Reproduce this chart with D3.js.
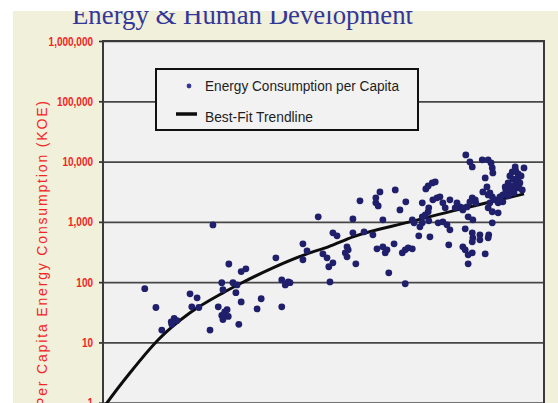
<!DOCTYPE html>
<html>
<head>
<meta charset="utf-8">
<script src="https://cdn.jsdelivr.net/npm/d3@7"></script>
<style>
  html, body { margin: 0; padding: 0; background: #fff; overflow: hidden; }
  svg { display: block; }
</style>
</head>
<body>
<svg id="chart" width="558" height="403"></svg>
<script>
// Human development index of each country
const hdi = [
  0.321, 0.340, 0.350, 0.366, 0.371, 0.376, 0.367, 0.398, 0.410, 0.401,
  0.413, 0.432, 0.437, 0.446, 0.452, 0.454, 0.457, 0.452, 0.461, 0.454,
  0.463, 0.464, 0.471, 0.476, 0.478, 0.485, 0.493, 0.485, 0.481, 0.512,
  0.519, 0.544, 0.554, 0.560, 0.565, 0.568, 0.554, 0.590, 0.590, 0.597,
  0.616, 0.624, 0.631, 0.634, 0.641, 0.641, 0.648, 0.636, 0.665, 0.667,
  0.662, 0.665, 0.675, 0.675, 0.680, 0.687, 0.694, 0.709, 0.716, 0.714,
  0.714, 0.718, 0.721, 0.726, 0.726, 0.733, 0.730, 0.736, 0.745, 0.747,
  0.755, 0.759, 0.764, 0.769, 0.776, 0.765, 0.764, 0.776, 0.779, 0.787,
  0.789, 0.793, 0.793, 0.798, 0.793, 0.799, 0.803, 0.810, 0.815, 0.804,
  0.803, 0.804, 0.806, 0.811, 0.818, 0.823, 0.828, 0.820, 0.828, 0.835,
  0.840, 0.840, 0.838, 0.832, 0.857, 0.862, 0.869, 0.867, 0.874, 0.878,
  0.895, 0.905, 0.910, 0.912, 0.913, 0.900, 0.903, 0.878, 0.883, 0.874,
  0.862, 0.871, 0.879, 0.905, 0.912, 0.917, 0.908, 0.905, 0.912, 0.922,
  0.922, 0.930, 0.912, 0.866, 0.878, 0.879, 0.878, 0.891, 0.891, 0.906,
  0.905, 0.862, 0.866, 0.878, 0.871, 0.900, 0.871, 0.951, 0.966, 0.942,
  0.947, 0.952, 0.956, 0.959, 0.939, 0.944, 0.951, 0.957, 0.935, 0.942,
  0.949, 0.956, 0.961, 0.930, 0.939, 0.925, 0.934, 0.946, 0.952, 0.963,
  0.925, 0.896, 0.908, 0.884, 0.849, 0.852
];

// Per capita energy consumption, kg of oil equivalent
const koe = [
  78, 38, 16, 22, 25, 23, 20, 64, 55, 39,
  38, 16, 890, 39, 98, 75, 32, 28, 35, 24,
  27, 200, 98, 67, 90, 150, 166, 47, 20, 36,
  53, 253, 109, 90, 101, 98, 39, 432, 235, 331,
  1210, 295, 253, 180, 209, 657, 587, 101, 385, 344,
  306, 263, 1120, 657, 201, 2230, 683, 609, 357, 2500,
  2070, 1840, 3140, 1080, 385, 344, 306, 143, 432, 3390,
  1580, 306, 344, 371, 357, 2150, 94, 1080, 963, 587,
  826, 2070, 1210, 1310, 963, 3520, 3950, 4430, 4600, 1710,
  1470, 1040, 564, 2320, 2500, 2600, 2070, 963, 1000, 892,
  2320, 737, 416, 1710, 1770, 1710, 1770, 12900, 9880, 8160,
  10700, 10700, 9510, 7860, 6490, 5360, 3800, 2500, 2320, 2150,
  1580, 1210, 1080, 2800, 2600, 2320, 2070, 1710, 1470, 1410,
  2070, 2150, 963, 766, 657, 543, 466, 609, 503, 609,
  543, 385, 344, 306, 284, 295, 201, 8160, 7860, 5790,
  5160, 4600, 5360, 4430, 4430, 3950, 3660, 3660, 3390, 3140,
  3030, 6250, 5790, 2800, 2700, 2600, 3800, 6740, 7000, 3390,
  2320, 3140, 3030, 2070, 1710, 2070
];

// Best-fit trendline
const trendHdi = [0.250, 0.257, 0.296, 0.344, 0.398, 0.454, 0.483, 0.539, 0.597, 0.633, 0.675, 0.772, 0.845, 0.903, 0.966];
const trendKoe = [0.8, 1.0, 3.14, 11.1, 31, 66.5, 94, 173, 295, 385, 564, 1000, 1520, 2070, 2910];

const yTicks = [1, 10, 100, 1000, 10000, 100000, 1000000];
const titleText = "Energy & Human Development";
const yTitle = "Per Capita Energy Consumption (KOE)";
const legendLabels = ["Energy Consumption per Capita", "Best-Fit Trendline"];

const W = 558, H = 403;
const plot = { left: 103, top: 41, right: 544, bottom: 463 };
const navy = "#1f1f6b";
const red = "#f42424";
const narrow = 0.8; // horizontal squeeze for the condensed labels

const svg = d3.select("#chart");

const x = d3.scaleLinear().domain([0.25, 1.0]).range([plot.left, plot.right]);
const y = d3.scaleLog().domain([0.1, 1e6]).range([plot.bottom, plot.top]);

// slide background
svg.append("rect").attr("width", W).attr("height", H).attr("fill", "#ffffff");
svg.append("rect").attr("x", 13).attr("y", 11).attr("width", W - 13).attr("height", H - 11).attr("fill", "#f1f0da");

// title
svg.append("text")
  .attr("x", 72).attr("y", 24)
  .attr("textLength", 341).attr("lengthAdjust", "spacingAndGlyphs")
  .style("font-family", "'Liberation Serif', 'Times New Roman', serif")
  .style("font-size", "27px")
  .attr("fill", "#34379a")
  .text(titleText);

// white strip across the top edge
svg.append("rect").attr("x", 0).attr("y", 0).attr("width", W).attr("height", 11).attr("fill", "#ffffff");

// plot area
svg.append("rect")
  .attr("x", plot.left).attr("y", plot.top)
  .attr("width", plot.right - plot.left).attr("height", plot.bottom - plot.top)
  .attr("fill", "#f1f1f1");

svg.append("defs").append("clipPath").attr("id", "plotClip")
  .append("rect")
  .attr("x", plot.left).attr("y", plot.top)
  .attr("width", plot.right - plot.left).attr("height", plot.bottom - plot.top);

// gridlines
const grid = svg.append("g")
  .attr("transform", `translate(${plot.left},0)`)
  .call(d3.axisLeft(y).tickValues(yTicks).tickSize(-(plot.right - plot.left)).tickFormat(""));
grid.select(".domain").remove();
grid.selectAll(".tick line").attr("stroke", "#474747").attr("stroke-width", 1.7);

// tick marks and labels
const yAxis = svg.append("g")
  .attr("transform", `translate(${plot.left},0)`)
  .call(d3.axisLeft(y).tickValues(yTicks).tickSize(4).tickPadding(6).tickFormat(d3.format(",")));
yAxis.select(".domain").remove();
yAxis.selectAll(".tick line").attr("stroke", "#333").attr("stroke-width", 1.7);
yAxis.selectAll(".tick text")
  .attr("x", -10 / narrow)
  .attr("transform", `scale(${narrow},1)`)
  .attr("fill", red)
  .style("font-family", "'Liberation Sans', Arial, sans-serif")
  .style("font-weight", "bold")
  .style("font-size", "12.5px");

// y axis title
svg.append("text")
  .attr("transform", "translate(47,101) rotate(-90)")
  .attr("text-anchor", "end")
  .attr("textLength", 306).attr("lengthAdjust", "spacing")
  .style("font-family", "'Liberation Sans', Arial, sans-serif")
  .style("font-size", "14px")
  .attr("fill", red)
  .text(yTitle);

// trendline
const pts = d3.range(hdi.length).map(i => ({ h: hdi[i], k: koe[i] }));
const trend = trendHdi.map((h, i) => ({ h, k: trendKoe[i] }));

const layer = svg.append("g").attr("clip-path", "url(#plotClip)");

layer.append("path")
  .datum(trend)
  .attr("fill", "none")
  .attr("stroke", "#0d0d0d")
  .attr("stroke-width", 3)
  .attr("d", d3.line().x(d => x(d.h)).y(d => y(d.k)).curve(d3.curveMonotoneX));

// country points
layer.selectAll("circle.pt")
  .data(pts)
  .join("circle")
  .attr("class", "pt")
  .attr("cx", d => x(d.h))
  .attr("cy", d => y(d.k))
  .attr("r", 3.4)
  .attr("fill", navy);

// plot border
svg.append("rect")
  .attr("x", plot.left).attr("y", plot.top)
  .attr("width", plot.right - plot.left).attr("height", plot.bottom - plot.top)
  .attr("fill", "none").attr("stroke", "#3a3a3a").attr("stroke-width", 2);

// legend
const lg = svg.append("g");
lg.append("rect")
  .attr("x", 156).attr("y", 69).attr("width", 262).attr("height", 61)
  .attr("fill", "#f2f2f2").attr("stroke", "#111").attr("stroke-width", 2);
lg.append("circle").attr("cx", 189).attr("cy", 86).attr("r", 2.4).attr("fill", "#35359a");
lg.append("line").attr("x1", 176).attr("x2", 197).attr("y1", 114).attr("y2", 114)
  .attr("stroke", "#0d0d0d").attr("stroke-width", 3.5);
lg.selectAll("text.lab")
  .data(legendLabels)
  .join("text")
  .attr("class", "lab")
  .attr("x", 205)
  .attr("y", (d, i) => i === 0 ? 91 : 122)
  .attr("textLength", (d, i) => i === 0 ? 194 : 108)
  .attr("lengthAdjust", "spacingAndGlyphs")
  .style("font-family", "'Liberation Sans', Arial, sans-serif")
  .style("font-size", "15.5px")
  .attr("fill", "#1e1e1e")
  .text(d => d);
</script>
</body>
</html>
